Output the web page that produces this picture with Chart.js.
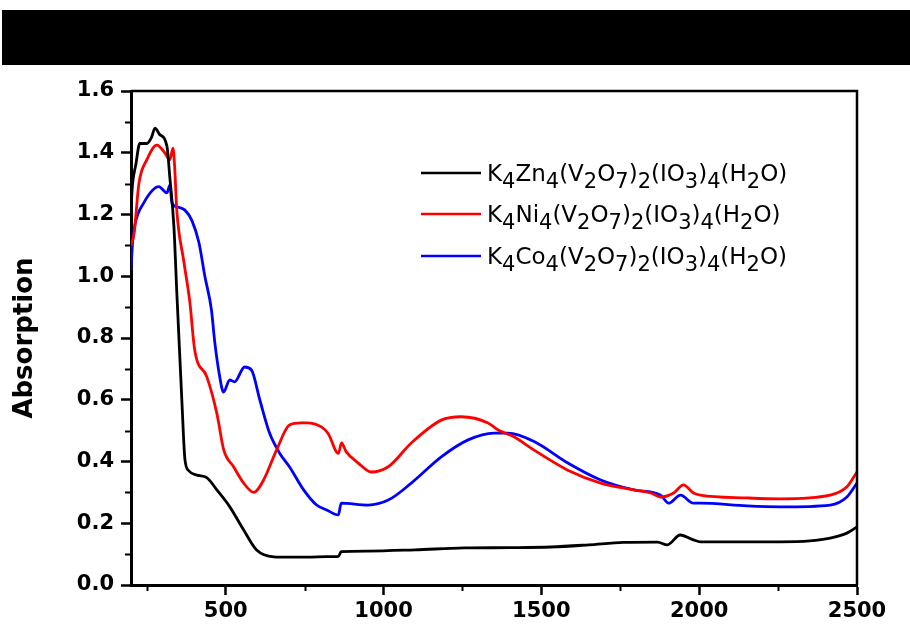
<!DOCTYPE html>
<html>
<head>
<meta charset="utf-8">
<title>Absorption spectra</title>
<script src="https://cdn.jsdelivr.net/npm/chart.js@4.4.1/dist/chart.umd.min.js"></script>
<style>
  html, body { margin: 0; padding: 0; background: #fff; }
  #wrap { position: relative; width: 910px; height: 630px; }
  #band { position: absolute; left: 2px; right: 0; top: 10px; height: 55px; background: #000; z-index: 2; }
  #box { position: absolute; left: 0; top: 0; width: 910px; height: 630px; }
</style>
</head>
<body>
<div id="wrap">
  <div id="band"></div>
  <div id="box"><canvas id="uvChart"></canvas></div>
</div>
<script>
// --- data (wavelength in nm, absorption) ---
const SERIES_LABELS = ['K4Zn4(V2O7)2(IO3)4(H2O)', 'K4Ni4(V2O7)2(IO3)4(H2O)', 'K4Co4(V2O7)2(IO3)4(H2O)'];
const SERIES_COLORS = ['#000000', '#ff0000', '#0000ff'];

const znWavelength = [200, 205, 215, 228, 250, 265, 276, 290, 314, 323, 336, 345, 361, 371, 383, 409, 440, 472, 513, 557, 598, 652, 700, 760, 820, 857, 866, 950, 1100, 1255, 1400, 1530, 1650, 1760, 1868, 1899, 1940, 1982, 2004, 2100, 2257, 2350, 2415, 2468, 2500];
const znAbs = [1.22, 1.30, 1.36, 1.43, 1.43, 1.45, 1.48, 1.46, 1.42, 1.32, 1.16, 0.95, 0.60, 0.405, 0.37, 0.356, 0.348, 0.308, 0.253, 0.178, 0.113, 0.091, 0.09, 0.09, 0.092, 0.093, 0.108, 0.11, 0.114, 0.12, 0.121, 0.123, 0.13, 0.138, 0.139, 0.13, 0.162, 0.146, 0.14, 0.14, 0.14, 0.143, 0.152, 0.168, 0.188];

const niWavelength = [200, 210, 225, 250, 282, 307, 323, 333, 338, 345, 367, 386, 402, 440, 472, 494, 525, 557, 589, 620, 661, 702, 740, 756, 803, 825, 857, 867, 882, 920, 961, 1015, 1088, 1183, 1246, 1331, 1363, 1413, 1477, 1584, 1688, 1793, 1846, 1878, 1919, 1950, 1982, 2004, 2152, 2257, 2415, 2468, 2500];
const niAbs = [1.10, 1.14, 1.30, 1.377, 1.425, 1.40, 1.377, 1.415, 1.36, 1.215, 1.05, 0.92, 0.76, 0.675, 0.556, 0.437, 0.383, 0.33, 0.30, 0.34, 0.437, 0.518, 0.525, 0.525, 0.512, 0.49, 0.426, 0.46, 0.431, 0.395, 0.366, 0.383, 0.46, 0.534, 0.545, 0.525, 0.502, 0.48, 0.437, 0.372, 0.33, 0.308, 0.298, 0.285, 0.298, 0.324, 0.298, 0.291, 0.282, 0.279, 0.291, 0.318, 0.366];

const coWavelength = [200, 205, 213, 240, 288, 314, 323, 330, 345, 370, 393, 415, 434, 455, 465, 481, 493, 513, 528, 560, 582, 608, 639, 671, 702, 747, 788, 820, 857, 866, 951, 1015, 1088, 1183, 1268, 1350, 1394, 1477, 1584, 1688, 1793, 1878, 1903, 1941, 1982, 2004, 2152, 2257, 2415, 2468, 2500];
const coAbs = [1.02, 1.11, 1.17, 1.237, 1.29, 1.27, 1.295, 1.237, 1.225, 1.215, 1.18, 1.11, 1.0, 0.89, 0.79, 0.675, 0.625, 0.664, 0.658, 0.706, 0.696, 0.60, 0.492, 0.427, 0.383, 0.308, 0.259, 0.243, 0.227, 0.265, 0.259, 0.275, 0.33, 0.415, 0.47, 0.492, 0.492, 0.465, 0.395, 0.34, 0.308, 0.291, 0.265, 0.291, 0.265, 0.265, 0.256, 0.253, 0.259, 0.285, 0.33];

// tick values: labelled majors come from the scales, minors are drawn short
const X_TICKS = [500, 1000, 1500, 2000, 2500];
const Y_TICKS = [0, 0.2, 0.4, 0.6, 0.8, 1.0, 1.2, 1.4, 1.6];
const X_MINOR = [250, 750, 1250, 1750, 2250];
const Y_MINOR = [0.1, 0.3, 0.5, 0.7, 0.9, 1.1, 1.3, 1.5];

const FONT = 'DejaVu Sans';

function toPoints(xs, ys) {
    return xs.map((x, i) => ({ x: x, y: ys[i] }));
}

// --- frame, minor ticks and the legend with subscripts ---
const decorPlugin = {
    id: 'decor',
    afterDraw(chart) {
        const { ctx, chartArea: a, scales } = chart;
        ctx.save();
        ctx.strokeStyle = '#000';
        ctx.lineWidth = 2.5;
        ctx.beginPath();
        ctx.moveTo(a.left, a.top);
        ctx.lineTo(a.right, a.top);
        ctx.lineTo(a.right, a.bottom);
        ctx.stroke();

        ctx.lineWidth = 2;
        X_MINOR.forEach(v => {
            const px = Math.round(scales.x.getPixelForValue(v)) + 0.5;
            ctx.beginPath();
            ctx.moveTo(px, a.bottom);
            ctx.lineTo(px, a.bottom + 6);
            ctx.stroke();
        });
        Y_MINOR.forEach(v => {
            const py = Math.round(scales.y.getPixelForValue(v)) + 0.5;
            ctx.beginPath();
            ctx.moveTo(a.left, py);
            ctx.lineTo(a.left - 6, py);
            ctx.stroke();
        });

        // legend
        const rowsY = [173, 214, 256];
        chart.data.datasets.forEach((ds, i) => {
            const y = rowsY[i];
            ctx.strokeStyle = ds.borderColor;
            ctx.lineWidth = 2.5;
            ctx.beginPath();
            ctx.moveTo(421, y);
            ctx.lineTo(481, y);
            ctx.stroke();

            let x = 487;
            ctx.fillStyle = '#000';
            ctx.textBaseline = 'alphabetic';
            for (const ch of ds.label) {
                const sub = /[0-9]/.test(ch);
                ctx.font = sub ? `21px "${FONT}"` : `23px "${FONT}"`;
                const by = sub ? y + 15 : y + 8;
                ctx.fillText(ch, x, by);
                x += ctx.measureText(ch).width;
            }
        });
        ctx.restore();
    }
};

const ctx = document.getElementById('uvChart').getContext('2d');
new Chart(ctx, {
    type: 'line',
    data: {
        datasets: [
            { label: SERIES_LABELS[0], data: toPoints(znWavelength, znAbs), borderColor: SERIES_COLORS[0] },
            { label: SERIES_LABELS[1], data: toPoints(niWavelength, niAbs), borderColor: SERIES_COLORS[1] },
            { label: SERIES_LABELS[2], data: toPoints(coWavelength, coAbs), borderColor: SERIES_COLORS[2] }
        ]
    },
    options: {
        responsive: true,
        maintainAspectRatio: false,
        animation: false,
        layout: { padding: { top: 91, right: 53, left: 0, bottom: 0 } },
        elements: {
            point: { radius: 0 },
            line: { borderWidth: 2.8, cubicInterpolationMode: 'monotone', fill: false }
        },
        plugins: {
            legend: { display: false },
            tooltip: { enabled: false }
        },
        scales: {
            x: {
                type: 'linear',
                min: 200,
                max: 2500,
                afterFit: s => { s.height = 45; },
                afterBuildTicks: s => { s.ticks = X_TICKS.map(v => ({ value: v })); },
                ticks: {
                    autoSkip: false,
                    maxRotation: 0,
                    padding: 4,
                    color: '#000',
                    callback: v => String(v),
                    font: { family: FONT, size: 21, weight: 'bold' }
                },
                grid: { drawOnChartArea: false, drawTicks: true, tickLength: 10, tickWidth: 2.5, tickColor: '#000' },
                border: { display: true, color: '#000', width: 3 }
            },
            y: {
                min: 0,
                max: 1.6,
                afterFit: s => { s.width = 131; },
                afterBuildTicks: s => { s.ticks = Y_TICKS.map(v => ({ value: v })); },
                ticks: {
                    autoSkip: false,
                    padding: 7,
                    color: '#000',
                    callback: v => v.toFixed(1),
                    font: { family: FONT, size: 21, weight: 'bold' }
                },
                title: {
                    display: true,
                    text: 'Absorption',
                    color: '#000',
                    padding: { top: 10, bottom: 0 },
                    font: { family: FONT, size: 26, weight: 'bold' }
                },
                grid: { drawOnChartArea: false, drawTicks: true, tickLength: 10, tickWidth: 2.5, tickColor: '#000' },
                border: { display: true, color: '#000', width: 3 }
            }
        }
    },
    plugins: [decorPlugin]
});
</script>
</body>
</html>
